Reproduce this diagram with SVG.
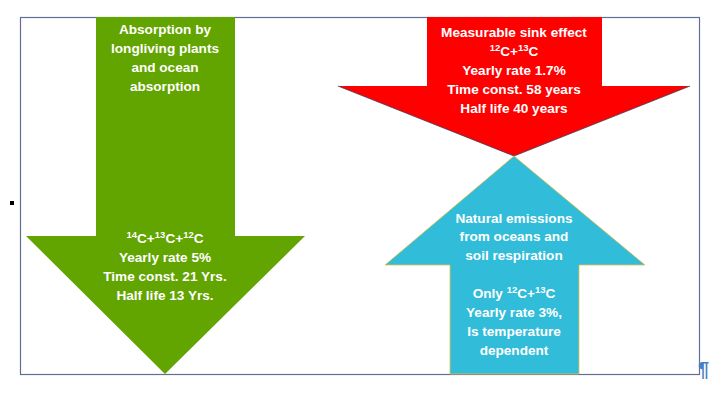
<svg xmlns="http://www.w3.org/2000/svg" width="720" height="393" viewBox="0 0 720 393">
<style>
.t{font-family:"Liberation Sans",Arial,sans-serif;font-weight:bold;font-size:13.6px;fill:#ffffff;text-anchor:middle}
.s{font-size:9.5px}
</style>
<rect width="720" height="393" fill="#ffffff"/>
<rect x="10" y="201" width="4" height="4" fill="#000000"/>
<rect x="20.5" y="17.5" width="679" height="357" fill="none" stroke="#5f6f94" stroke-width="1.2"/>
<g id="green-arrow">
<polygon points="96,17 235,17 235,236 305,236 165,374 26,236 96,236" fill="#62a400"/>
<text class="t" x="165" y="34">Absorption by</text>
<text class="t" x="165" y="53">longliving plants</text>
<text class="t" x="165" y="72">and ocean</text>
<text class="t" x="165" y="91">absorption</text>
<text class="t" x="165" y="243"><tspan class="s" dy="-5">14</tspan><tspan dy="5">C+</tspan><tspan class="s" dy="-5">13</tspan><tspan dy="5">C+</tspan><tspan class="s" dy="-5">12</tspan><tspan dy="5">C</tspan></text>
<text class="t" x="165" y="262">Yearly rate 5%</text>
<text class="t" x="165" y="281">Time const. 21 Yrs.</text>
<text class="t" x="165" y="300">Half life 13 Yrs.</text>
</g>
<g id="red-arrow">
<polygon points="427,17 602,17 602,86 690,86 514,156 338,86 427,86" fill="#ff0000"/>
<polyline points="338,86 514,156 690,86" fill="none" stroke="#3a3f5a" stroke-width="0.8"/>
<text class="t" x="514" y="37">Measurable sink effect</text>
<text class="t" x="514" y="56"><tspan class="s" dy="-5">12</tspan><tspan dy="5">C+</tspan><tspan class="s" dy="-5">13</tspan><tspan dy="5">C</tspan></text>
<text class="t" x="514" y="75">Yearly rate 1.7%</text>
<text class="t" x="514" y="94">Time const. 58 years</text>
<text class="t" x="514" y="113">Half life 40 years</text>
</g>
<g id="blue-arrow">
<polygon points="514,156 645,265 579,265 579,374 450,374 450,265 385,265" fill="#31bcd9" stroke="#e3c24a" stroke-width="0.8"/>
<text class="t" x="514" y="223">Natural emissions</text>
<text class="t" x="514" y="241">from oceans and</text>
<text class="t" x="514" y="260">soil respiration</text>
<text class="t" x="514" y="298">Only <tspan class="s" dy="-5">12</tspan><tspan dy="5">C+</tspan><tspan class="s" dy="-5">13</tspan><tspan dy="5">C</tspan></text>
<text class="t" x="514" y="317">Yearly rate 3%,</text>
<text class="t" x="514" y="336">Is temperature</text>
<text class="t" x="514" y="355">dependent</text>
</g>
<g id="connectors"></g>
<text x="698" y="376" font-family="Liberation Sans,Arial,sans-serif" font-size="20" font-weight="bold" fill="#4a7fc6">¶</text>
</svg>
